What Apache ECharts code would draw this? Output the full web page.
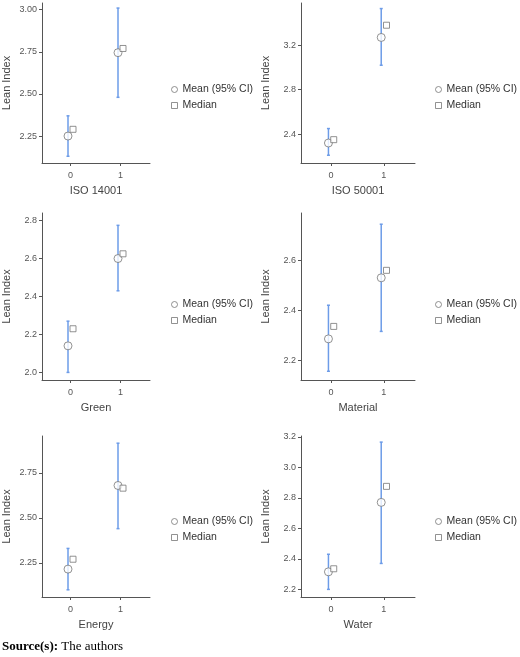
<!DOCTYPE html>
<html><head><meta charset="utf-8">
<script src="https://cdn.jsdelivr.net/npm/echarts@6/dist/echarts.min.js"></script>
<style>html,body{margin:0;padding:0;background:#fff}#c{width:520px;height:657px}</style>
</head><body><div id="c"></div>
<script>
const panelNames = ['ISO 14001','ISO 50001','Green','Material','Energy','Water'];
const categories = [0, 1];
const meanValues = [[2.25,2.745],[2.32,3.27],[2.14,2.60],[2.285,2.53],[2.215,2.68],[2.315,2.77]];
const ciLow = [[2.13,2.48],[2.21,3.02],[2.00,2.43],[2.155,2.315],[2.10,2.44],[2.20,2.37]];
const ciHigh = [[2.37,3.01],[2.45,3.53],[2.27,2.775],[2.42,2.745],[2.33,2.915],[2.43,3.165]];
const medianValues = [[2.29,2.77],[2.35,3.38],[2.23,2.625],[2.335,2.56],[2.27,2.665],[2.335,2.875]];
const yTicks = [[2.25,2.5,2.75,3.0],[2.4,2.8,3.2],[2.0,2.2,2.4,2.6,2.8],[2.2,2.4,2.6],[2.25,2.5,2.75],[2.2,2.4,2.6,2.8,3.0,3.2]];
const yDecimals = [2,1,1,1,2,1];
const yRange = [[2.09,3.04],[2.14,3.58],[1.96,2.84],[2.12,2.79],[2.06,2.955],[2.15,3.205]];

const gridPos = [
  {left:40,top:3,width:110,height:160},{left:301,top:3,width:114,height:160},
  {left:40,top:213,width:110,height:167},{left:301,top:213,width:114,height:167},
  {left:40,top:436,width:110,height:161},{left:301,top:436,width:114,height:161}];
const legendPos = [[166,79],[430,79],[166,294],[430,294],[166,511],[430,511]];
const grey = '#555', axisCol = '#555';
const mk = {color:'#fff',borderColor:'#777',borderWidth:1};
const grids=[],xAxes=[],yAxes=[],series=[],legends=[];
panelNames.forEach((nm,i)=>{
  grids.push(gridPos[i]);
  xAxes.push({type:'value',gridIndex:i,min:-0.57,max:1.59,name:nm,nameLocation:'middle',nameGap:22,
    nameTextStyle:{color:'#444',fontSize:11,fontFamily:'Liberation Sans'},
    axisLine:{show:true,onZero:false,lineStyle:{color:axisCol}},splitLine:{show:false},
    axisTick:{show:true,customValues:categories,length:3,lineStyle:{color:axisCol}},
    axisLabel:{customValues:categories,color:grey,fontSize:9,margin:8,fontFamily:'Liberation Sans'}});
  yAxes.push({type:'value',gridIndex:i,min:yRange[i][0],max:yRange[i][1],name:'Lean Index',nameLocation:'middle',nameGap:30,
    nameTextStyle:{color:'#444',fontSize:11,fontFamily:'Liberation Sans'},
    axisLine:{show:true,onZero:false,lineStyle:{color:axisCol}},splitLine:{show:false},
    axisTick:{show:true,customValues:yTicks[i],length:3,lineStyle:{color:axisCol}},
    axisLabel:{customValues:yTicks[i],color:grey,fontSize:9,margin:5,fontFamily:'Liberation Sans',
      formatter:v=>v.toFixed(yDecimals[i])}});
  series.push({type:'custom',xAxisIndex:i,yAxisIndex:i,silent:true,z:1,
    data:categories.map((c,j)=>[c-0.05,ciLow[i][j],ciHigh[i][j]]),
    renderItem:(params,api)=>{
      const a=api.coord([api.value(0),api.value(1)]),b=api.coord([api.value(0),api.value(2)]);
      const st={stroke:'#6d9ce8',lineWidth:1.5};
      return {type:'group',children:[
        {type:'line',shape:{x1:a[0],y1:a[1],x2:b[0],y2:b[1]},style:st},
        {type:'line',shape:{x1:a[0]-1.5,y1:a[1],x2:a[0]+1.5,y2:a[1]},style:st},
        {type:'line',shape:{x1:b[0]-1.5,y1:b[1],x2:b[0]+1.5,y2:b[1]},style:st}]};
    }});
  series.push({type:'scatter',name:'Mean (95% CI)',xAxisIndex:i,yAxisIndex:i,z:3,symbol:'circle',symbolSize:8,
    itemStyle:mk,data:categories.map((c,j)=>[c-0.05,meanValues[i][j]])});
  series.push({type:'scatter',name:'Median',xAxisIndex:i,yAxisIndex:i,z:3,symbol:'rect',symbolSize:6,
    itemStyle:mk,data:categories.map((c,j)=>[c+0.05,medianValues[i][j]])});
  legends.push({orient:'vertical',left:legendPos[i][0],top:legendPos[i][1],itemWidth:6,itemHeight:6,itemGap:5,
    selectedMode:false,textStyle:{color:'#333',fontSize:10.5,fontFamily:'Liberation Sans'},
    data:[{name:'Mean (95% CI)',icon:'circle',itemStyle:mk},{name:'Median',icon:'rect',itemStyle:mk}]});
});
const chart=echarts.init(document.getElementById('c'));
chart.setOption({animation:false,grid:grids,xAxis:xAxes,yAxis:yAxes,series:series,legend:legends,
  graphic:[{type:'text',left:2,top:640,style:{rich:{b:{fontWeight:'bold',fontFamily:'Liberation Serif',fontSize:13,fill:'#000'},n:{fontFamily:'Liberation Serif',fontSize:13,fill:'#000'}},text:'{b|Source(s):}{n| The authors}'}}]});
</script></body></html>
